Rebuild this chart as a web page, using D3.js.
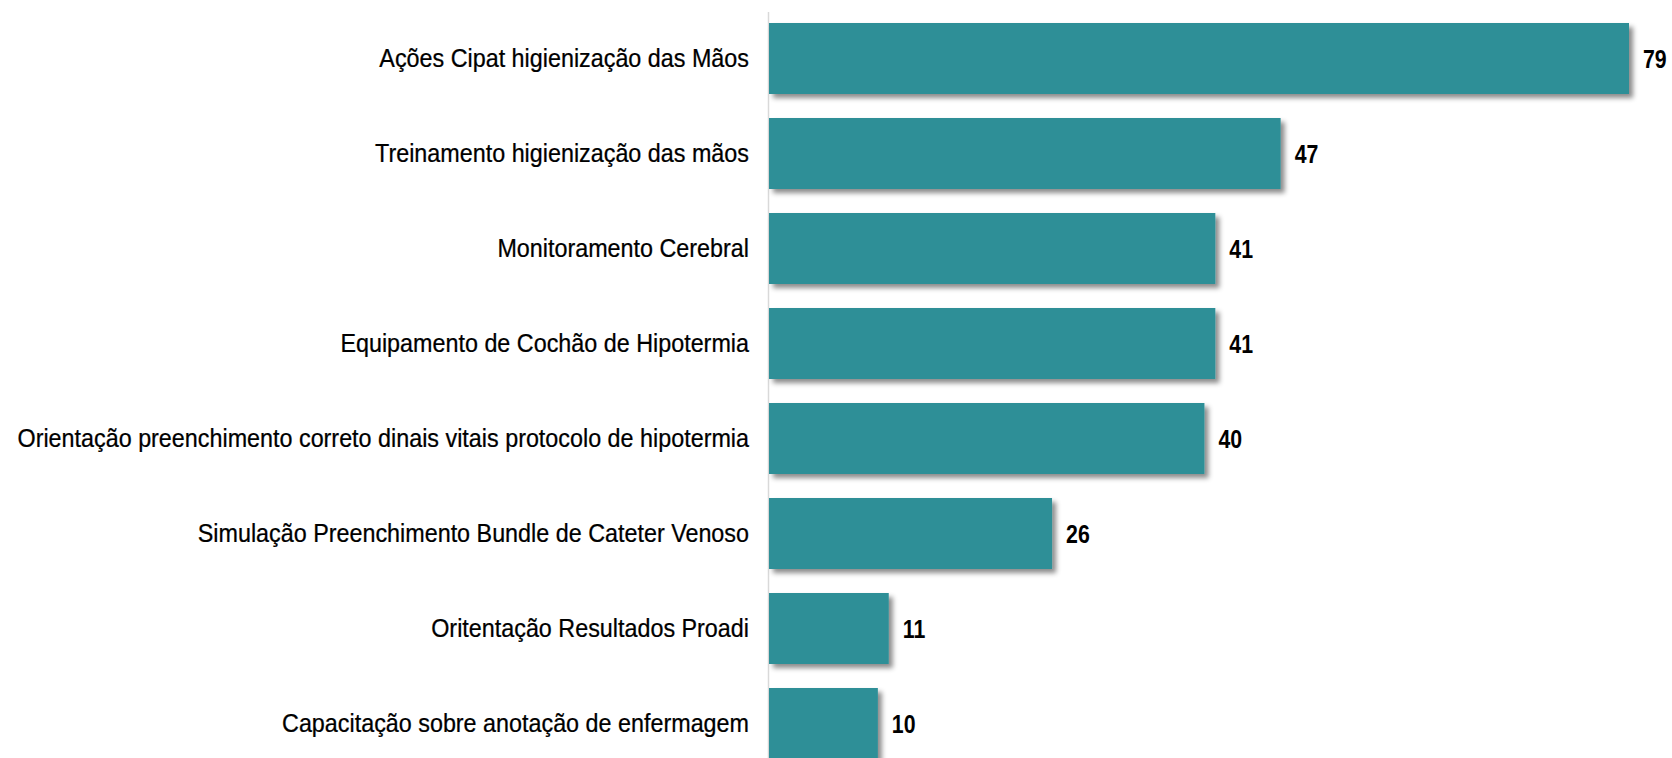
<!DOCTYPE html>
<html>
<head>
<meta charset="utf-8">
<script src="https://cdn.jsdelivr.net/npm/d3@7"></script>
<style>
  html, body { margin: 0; padding: 0; background: #fff; }
  svg { display: block; }
  .cat { font-family: "Liberation Sans", Arial, sans-serif; font-size: 25px; fill: #000; stroke: #000; stroke-width: 0.25px; }
  .val { font-family: "Liberation Sans", Arial, sans-serif; font-weight: bold; font-size: 26px; fill: #000; }
</style>
</head>
<body>
<script>
// Treinamentos realizados: número de participantes por ação
const categories = [
  "Ações Cipat higienização das Mãos",
  "Treinamento higienização das mãos",
  "Monitoramento Cerebral",
  "Equipamento de Cochão de Hipotermia",
  "Orientação preenchimento correto dinais vitais protocolo de hipotermia",
  "Simulação Preenchimento Bundle de Cateter Venoso",
  "Oritentação Resultados Proadi",
  "Capacitação sobre anotação de enfermagem"
];
const values = [79, 47, 41, 41, 40, 26, 11, 10];

const width = 1672, height = 758;

const svg = d3.select("body").append("svg")
  .attr("width", width)
  .attr("height", height);

const defs = svg.append("defs");
const shadow = defs.append("filter")
  .attr("id", "barShadow")
  .attr("x", "-5%").attr("y", "-10%")
  .attr("width", "115%").attr("height", "130%");
shadow.append("feDropShadow")
  .attr("dx", 4).attr("dy", 4)
  .attr("stdDeviation", 2.5)
  .attr("flood-color", "#000")
  .attr("flood-opacity", 0.45);

const x = d3.scaleLinear()
  .domain([0, 79])
  .range([769, 1629]);

const y = d3.scaleBand()
  .domain(categories)
  .range([11, 771])
  .paddingInner(0.2526)
  .paddingOuter(0.1263);

const labelRight = 749;   // right edge of category labels
const labelLeft = 17;     // left edge of the longest category label

// vertical category axis line
svg.append("line")
  .attr("x1", 768.5).attr("x2", 768.5)
  .attr("y1", 12).attr("y2", height)
  .attr("stroke", "#d9d9d9")
  .attr("stroke-width", 1.5);

const data = categories.map((c, i) => ({ cat: c, val: values[i] }));

svg.append("g")
  .selectAll("rect")
  .data(data)
  .join("rect")
  .attr("x", x(0))
  .attr("y", d => y(d.cat))
  .attr("width", d => x(d.val) - x(0))
  .attr("height", y.bandwidth())
  .attr("fill", "#2f8f97")
  .attr("filter", "url(#barShadow)");

const catLabels = svg.append("g")
  .selectAll("g")
  .data(data)
  .join("g");
const catText = catLabels.append("text")
  .attr("class", "cat")
  .attr("text-anchor", "end")
  .attr("dominant-baseline", "central")
  .text(d => d.cat);

// condensed face: squeeze labels so the longest one fits the label column
let maxLen = 0;
catText.each(function () { maxLen = Math.max(maxLen, this.getComputedTextLength()); });
const narrow = Math.min(1, (labelRight - labelLeft) / maxLen);
catLabels.attr("transform", d => `translate(${labelRight},${y(d.cat) + y.bandwidth() / 2}) scale(${narrow},1)`);

const valLabels = svg.append("g")
  .selectAll("g")
  .data(data)
  .join("g")
  .attr("transform", d => `translate(${x(d.val) + 14},${y(d.cat) + y.bandwidth() / 2}) scale(0.82,1)`);
valLabels.append("text")
  .attr("class", "val")
  .attr("dominant-baseline", "central")
  .text(d => d.val);
</script>
</body>
</html>
